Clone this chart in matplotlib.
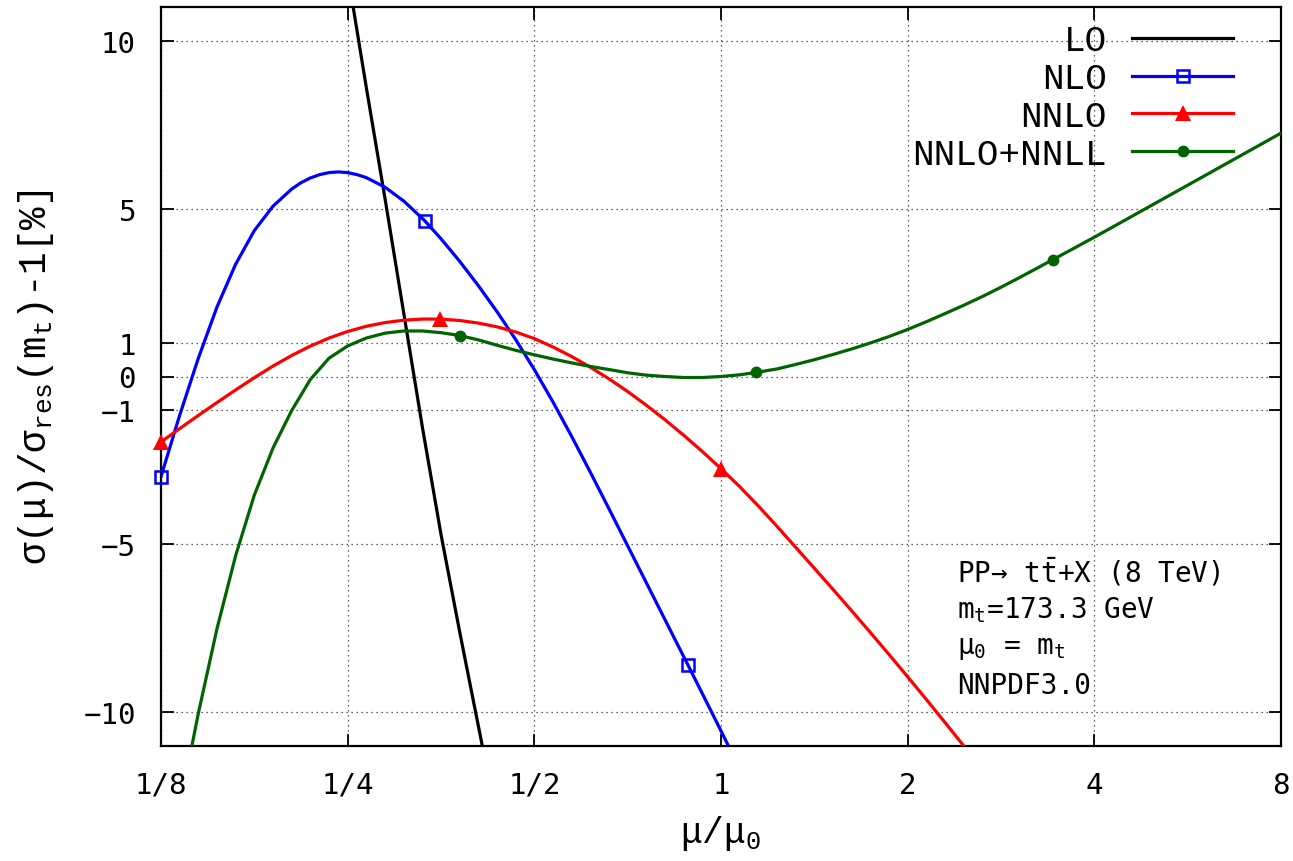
import numpy as np
import matplotlib
matplotlib.use("Agg")
import matplotlib.pyplot as plt
from matplotlib.lines import Line2D

# ---------------- data (x given as log2(mu/mu0)) ----------------
lo_log2mu = [-2.00, -1.90, -1.80, -1.70, -1.60, -1.50, -1.40, -1.30, -1.25]
lo_val = [12.0, 8.6, 5.3, 1.9, -1.5, -4.7, -7.6, -10.4, -11.8]

nlo_log2mu = [-3.0, -2.9, -2.8, -2.7, -2.6, -2.5, -2.4, -2.3, -2.25, -2.2, -2.15,
              -2.1, -2.05, -2.0, -1.95, -1.9, -1.8, -1.7, -1.6, -1.586, -1.5, -1.4,
              -1.3, -1.2, -1.1, -1.0, -0.9, -0.8, -0.7, -0.6, -0.5, -0.4, -0.3,
              -0.2, -0.177, -0.1, 0.0, 0.1]
nlo_val = [-2.98, -1.155, 0.545, 2.07, 3.345, 4.345, 5.07, 5.58, 5.77, 5.91, 6.01,
           6.07, 6.09, 6.07, 6.01, 5.92, 5.635, 5.225, 4.705, 4.63, 4.10, 3.43,
           2.705, 1.93, 1.10, 0.205, -0.76, -1.785, -2.85, -3.94, -5.04, -6.14, -7.24,
           -8.34, -8.59, -9.44, -10.55, -11.68]
nlo_marker_log2mu = [-3.0, -1.586, -0.177]

nnlo_log2mu = [-3.0, -2.9, -2.8, -2.7, -2.6, -2.5, -2.4, -2.3, -2.2, -2.1, -2.0,
               -1.9, -1.8, -1.7, -1.6, -1.505, -1.4, -1.3, -1.2, -1.1, -1.0, -0.9,
               -0.8, -0.7, -0.6, -0.5, -0.4, -0.3, -0.2, -0.1, 0.0, 0.1, 0.2, 0.3,
               0.4, 0.5, 0.6, 0.7, 0.8, 0.9, 1.0, 1.1, 1.2, 1.3, 1.4]
nnlo_val = [-1.95, -1.55, -1.16, -0.775, -0.40, -0.035, 0.31, 0.625, 0.905, 1.145, 1.34,
            1.495, 1.605, 1.675, 1.71, 1.71, 1.667, 1.59, 1.478, 1.325, 1.128, 0.878,
            0.594, 0.277, -0.07, -0.448, -0.855, -1.289, -1.749, -2.233, -2.743, -3.278,
            -3.855, -4.46, -5.085, -5.708, -6.338, -6.975, -7.62, -8.275, -8.94, -9.615,
            -10.30, -10.995, -11.70]
nnlo_marker_log2mu = [-3.0, -1.505, 0.0]

nnll_log2mu = [-2.85, -2.8, -2.7, -2.6, -2.5, -2.4, -2.3, -2.2, -2.1, -2.0, -1.9,
               -1.8, -1.7, -1.6, -1.5, -1.4, -1.3, -1.2, -1.1, -1.0, -0.9, -0.8,
               -0.7, -0.6, -0.5, -0.4, -0.3, -0.2, -0.1, 0.0, 0.1, 0.187, 0.3, 0.4,
               0.5, 0.6, 0.7, 0.8, 0.9, 1.0, 1.1, 1.2, 1.3, 1.4, 1.5, 1.6, 1.7,
               1.778, 1.8, 1.9, 2.0, 2.1, 2.2, 2.3, 2.4, 2.5, 2.6, 2.7, 2.8, 2.9, 3.0]
nnll_val = [-11.43, -10.03, -7.505, -5.33, -3.53, -2.13, -1.015, -0.09, 0.545, 0.91, 1.145,
            1.29, 1.355, 1.355, 1.305, 1.22, 1.09, 0.93, 0.78, 0.645, 0.52, 0.405,
            0.30, 0.2075, 0.11, 0.04, 0.0, -0.03, -0.03, 0.0, 0.05, 0.12, 0.225, 0.3575,
            0.50, 0.655, 0.82, 0.9975, 1.19, 1.40, 1.63, 1.8725, 2.12, 2.38, 2.6575, 2.9475, 3.245,
            3.48, 3.545, 3.845, 4.1475, 4.455, 4.765, 5.075, 5.385, 5.695, 6.005, 6.315, 6.625,
            6.935, 7.245]
nnll_marker_log2mu = [-1.4, 0.187, 1.778]

xtick_vals = [1/8, 1/4, 1/2, 1, 2, 4, 8]
xtick_labels = ["1/8", "1/4", "1/2", "1", "2", "4", "8"]
ytick_vals = [-10, -5, -1, 0, 1, 5, 10]
ytick_labels = ["\u221210", "\u22125", "\u22121", "0", "1", "5", "10"]

series = [
    ("LO", lo_log2mu, lo_val, [], "black", None, {}),
    ("NLO", nlo_log2mu, nlo_val, nlo_marker_log2mu, "#0000ff", "s",
     dict(markersize=9, markerfacecolor="none", markeredgewidth=1.8)),
    ("NNLO", nnlo_log2mu, nnlo_val, nnlo_marker_log2mu, "#ff0000", "^",
     dict(markersize=11, markeredgewidth=0)),
    ("NNLO+NNLL", nnll_log2mu, nnll_val, nnll_marker_log2mu, "#006400", "o",
     dict(markersize=8.5, markeredgewidth=0)),
]

# ---------------- figure ----------------
plt.rcParams["mathtext.default"] = "regular"
mono_serif = "Liberation Mono"
mono_sans = "DejaVu Sans Mono"

fig = plt.figure(figsize=(12.93, 8.62), dpi=100)
ax = fig.add_axes([161 / 1293, 1 - 747 / 862, (1281 - 161) / 1293, (747 - 8) / 862])

handles = []
for name, lx, vy, mk, col, marker, mkw in series:
    lx = np.asarray(lx)
    mu = np.power(2.0, lx)
    vy = np.asarray(vy)
    ax.plot(mu, vy, color=col, lw=2.3, solid_joinstyle="round", zorder=3)
    if marker is not None:
        idx = [int(np.argmin(np.abs(lx - m))) for m in mk]
        ax.plot(mu[idx], vy[idx], linestyle="none", marker=marker, color=col,
                clip_on=False, zorder=4, **mkw)
        handles.append(Line2D([], [], color=col, lw=2.3, marker=marker, **mkw))
    else:
        handles.append(Line2D([], [], color=col, lw=2.3))

ax.set_xscale("log", base=2)
ax.set_xlim(1 / 8, 8)
ax.set_ylim(-11, 11)
ax.set_xticks(xtick_vals)
ax.set_xticklabels(xtick_labels)
ax.xaxis.set_minor_locator(matplotlib.ticker.NullLocator())
ax.set_yticks(ytick_vals)
ax.set_yticklabels(ytick_labels)

for lab in ax.get_xticklabels() + ax.get_yticklabels():
    lab.set_fontfamily(mono_sans)
    lab.set_fontsize(21)

ax.tick_params(direction="in", length=9, width=1.3, top=True, right=True, pad=18)
for sp in ax.spines.values():
    sp.set_linewidth(1.6)

ax.grid(True, color="#333333", linestyle=(0, (1, 3)), linewidth=0.9)
ax.set_axisbelow(True)

ax.set_xlabel("\u03bc/\u03bc$_{0}$", fontfamily=mono_serif, fontsize=26, labelpad=10)
ax.set_ylabel("\u03c3(\u03bc)/\u03c3$_{res}$(m$_{t}$)-1[%]", fontfamily=mono_serif,
              fontsize=27, labelpad=20)

leg = ax.legend(handles, [s[0] for s in series], loc="upper right",
                bbox_to_anchor=(0.972, 1.0), frameon=False, markerfirst=False,
                prop={"family": mono_serif, "size": 26}, handlelength=2.8,
                handletextpad=0.7, labelspacing=0.08, borderaxespad=0.25,
                borderpad=0.2)

info = ["PP\u2192 t$\\bar{t}$+X (8 TeV)", "m$_{t}$=173.3 GeV",
        "\u03bc$_{0}$ = m$_{t}$", "NNPDF3.0"]
for i, line in enumerate(info):
    ax.text(0.711, 0.2368 - i * 0.0514, line, transform=ax.transAxes,
            fontfamily=mono_sans, fontsize=20, va="center", ha="left")

fig.savefig("out.png", dpi=100)
